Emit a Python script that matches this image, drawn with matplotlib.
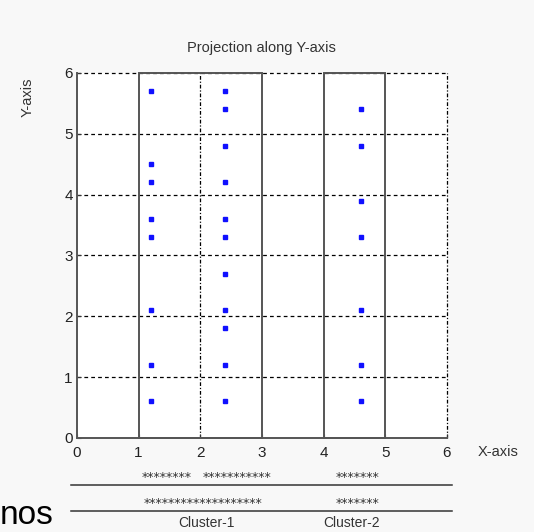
import matplotlib
matplotlib.use("Agg")
from matplotlib import pyplot as plt
from matplotlib.patches import Rectangle
import matplotlib.transforms as mtransforms

# points, one list per column
x1 = [1.2] * 8
y1 = [0.6, 1.2, 2.1, 3.3, 3.6, 4.2, 4.5, 5.7]
x2 = [2.4] * 11
y2 = [0.6, 1.2, 1.8, 2.1, 2.7, 3.3, 3.6, 4.2, 4.8, 5.4, 5.7]
x3 = [4.6] * 7
y3 = [0.6, 1.2, 2.1, 3.3, 3.9, 4.8, 5.4]

# dense regions (x start, x end)
clusters = [(1, 3), (4, 5)]
cluster_names = ["Cluster-1", "Cluster-2"]
cluster_centers = [2.1, 4.45]

# projection rows of stars below the axis
row1_text = ["********", "***********", "*******"]
row1_x = [1.45, 2.6, 4.55]
row2_text = ["*******************", "*******"]
row2_x = [2.05, 4.55]

ticks = [0, 1, 2, 3, 4, 5, 6]

plt.rcParams['font.family'] = ['Liberation Sans', 'DejaVu Sans']
fig = plt.figure(figsize=(5.34, 5.32), dpi=100)
fig.patch.set_facecolor('#f8f8f8')
ax = fig.add_axes([0.144, 0.177, 0.693, 0.686])
ax.set_facecolor('white')

# grid: dashed horizontal, dash-dot vertical
for y in ticks[1:]:
    ax.plot([0, 6], [y, y], color='black', ls=(0, (3, 2.5)), lw=0.9, zorder=1, clip_on=False)
for x in [2, 6]:
    ax.plot([x, x], [0, 6], color='black', ls=(0, (3, 1.5, 1, 1.5)), lw=0.9, zorder=1, clip_on=False)

for a, b in clusters:
    ax.add_patch(Rectangle((a, 0), b - a, 6, fill=False, edgecolor='#555555', lw=1.4,
                           zorder=2, clip_on=False))

ax.plot(x1, y1, 's', color='#1010ff', ms=2.5, zorder=3)
ax.plot(x2, y2, 's', color='#1010ff', ms=2.5, zorder=3)
ax.plot(x3, y3, 's', color='#1010ff', ms=2.5, zorder=3)

ax.set_xlim(0, 6)
ax.set_ylim(0, 6)
ax.set_xticks(ticks)
ax.set_yticks(ticks)
ax.tick_params(direction='in', length=3, labelsize=11, colors='#333333', labelcolor='#222222')
ax.tick_params(axis='x', pad=6)
ax.tick_params(axis='y', pad=3)
for s in ['top', 'right']:
    ax.spines[s].set_visible(False)
for s in ['left', 'bottom']:
    ax.spines[s].set_color('#555555')
    ax.spines[s].set_linewidth(1.4)

ax.set_title("Projection along Y-axis", fontsize=10.5, color='#333333', pad=15)
fig.text(0.052, 0.818, "Y-axis", rotation=90, ha='center', va='center', fontsize=10.5, color='#333333')
fig.text(0.933, 0.150, "X-axis", ha='center', va='center', fontsize=10.5, color='#333333')

tr = mtransforms.blended_transform_factory(ax.transData, fig.transFigure)
for t, x in zip(row1_text, row1_x):
    ax.text(x, 0.103, t, transform=tr, ha='center', va='center', fontsize=9,
            color='#333333', family='DejaVu Sans', clip_on=False)
for t, x in zip(row2_text, row2_x):
    ax.text(x, 0.053, t, transform=tr, ha='center', va='center', fontsize=9,
            color='#333333', family='DejaVu Sans', clip_on=False)
for yy in [0.088, 0.039]:
    ax.plot([-0.1, 6.08], [yy, yy], color='#333333', lw=1.1, transform=tr, clip_on=False)
for name, cx in zip(cluster_names, cluster_centers):
    ax.text(cx, 0.004, name, transform=tr, ha='center', va='bottom', fontsize=10,
            color='#333333', clip_on=False)

# leftover slide text at the bottom-left corner
fig.text(0.0, 0.002, "nos", fontsize=24, color='black', ha='left', va='bottom')

fig.savefig("out.png", dpi=100, facecolor=fig.get_facecolor())
